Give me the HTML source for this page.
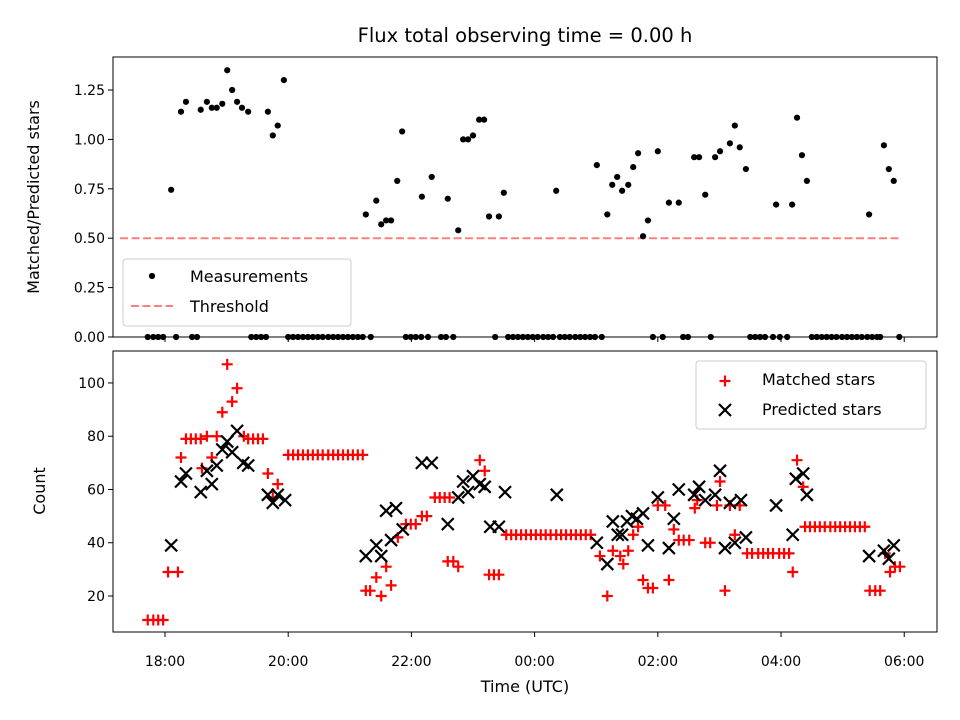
<!DOCTYPE html>
<html><head><meta charset="utf-8"><style>
body{margin:0;background:#fff;}
svg{display:block;font-family:"DejaVu Sans","Liberation Sans",sans-serif;}
</style></head><body>
<svg id="c" width="960" height="720" viewBox="0 0 960 720" xmlns="http://www.w3.org/2000/svg">
<rect width="960" height="720" fill="#fff"/>
<text x="525" y="42" font-size="19.5" text-anchor="middle">Flux total observing time = 0.00 h</text>
<g id="top"></g><g id="bot"></g>
<text transform="translate(39,197) rotate(-90)" font-size="16" text-anchor="middle">Matched/Predicted stars</text>
<text transform="translate(45,491) rotate(-90)" font-size="16" text-anchor="middle">Count</text>
<text x="525" y="692" font-size="16" text-anchor="middle">Time (UTC)</text>
</svg>
<script>
// hours since 18:00 UTC
const ratioTimes=[0.10,0.26,0.34,0.58,0.68,0.76,0.84,0.93,1.01,1.09,1.17,1.25,1.35,1.67,1.75,1.83,1.93,3.26,3.43,3.51,3.59,3.67,3.77,3.85,4.17,4.33,4.59,4.76,4.84,4.92,5.00,5.10,5.18,5.26,5.42,5.50,6.35,7.01,7.18,7.26,7.34,7.42,7.52,7.60,7.68,7.76,7.84,8.00,8.18,8.34,8.59,8.67,8.77,8.93,9.01,9.17,9.25,9.33,9.43,9.92,10.18,10.26,10.34,10.42,11.43,11.67,11.75,11.83];
const ratioValues=[0.745,1.14,1.19,1.15,1.19,1.16,1.16,1.18,1.35,1.25,1.19,1.16,1.14,1.14,1.02,1.07,1.30,0.62,0.69,0.57,0.59,0.59,0.79,1.04,0.71,0.81,0.70,0.54,1.00,1.00,1.02,1.10,1.10,0.61,0.61,0.73,0.74,0.87,0.62,0.77,0.81,0.74,0.77,0.86,0.93,0.51,0.59,0.94,0.68,0.68,0.91,0.91,0.72,0.91,0.94,0.98,1.07,0.96,0.85,0.67,0.67,1.11,0.92,0.79,0.62,0.97,0.85,0.79];
const zeroTimes=[-0.28,-0.19,-0.11,-0.03,0.18,0.44,0.52,1.40,1.48,1.56,1.64,2.00,2.08,2.16,2.24,2.32,2.40,2.48,2.56,2.65,2.73,2.81,2.89,2.97,3.05,3.13,3.21,3.34,3.91,3.99,4.07,4.16,4.27,4.48,4.56,4.68,5.36,5.57,5.65,5.73,5.81,5.89,5.97,6.05,6.14,6.22,6.30,6.41,6.49,6.57,6.66,6.74,6.82,6.90,6.98,7.09,7.92,8.08,8.41,8.49,8.86,9.50,9.58,9.66,9.74,9.87,9.98,10.10,10.50,10.58,10.66,10.74,10.82,10.90,10.99,11.07,11.15,11.23,11.31,11.40,11.48,11.56,11.61,11.92];
const threshold=0.5, thrStart=-0.73, thrEnd=11.93;
const matchedTimes=[-0.28,-0.19,-0.11,-0.03,0.05,0.21,0.26,0.34,0.42,0.50,0.58,0.60,0.68,0.76,0.84,0.93,1.01,1.09,1.17,1.28,1.35,1.43,1.51,1.59,1.67,1.75,1.83,2.00,2.08,2.16,2.24,2.32,2.40,2.48,2.56,2.65,2.73,2.81,2.89,2.97,3.05,3.13,3.21,3.26,3.33,3.43,3.51,3.59,3.67,3.78,3.91,3.99,4.07,4.17,4.25,4.38,4.46,4.54,4.62,4.59,4.68,4.76,5.11,5.19,5.26,5.34,5.42,5.54,5.62,5.70,5.78,5.86,5.94,6.02,6.10,6.18,6.26,6.35,6.43,6.51,6.59,6.67,6.75,6.83,6.91,7.06,7.18,7.27,7.39,7.44,7.52,7.60,7.68,7.76,7.84,7.92,8.00,8.12,8.18,8.26,8.34,8.42,8.51,8.60,8.64,8.77,8.85,8.96,9.01,9.09,9.17,9.25,9.33,9.45,9.53,9.63,9.71,9.79,9.87,9.97,10.05,10.13,10.19,10.26,10.36,10.39,10.47,10.55,10.63,10.71,10.80,10.88,10.96,11.04,11.12,11.20,11.28,11.36,11.44,11.53,11.61,11.69,11.77,11.85,11.93];
const matchedCounts=[11,11,11,11,29,29,72,79,79,79,79,68,80,72,80,89,107,93,98,80,79,79,79,79,66,57,62,73,73,73,73,73,73,73,73,73,73,73,73,73,73,73,73,22,22,27,20,31,24,42,47,47,47,50,50,57,57,57,57,33,33,31,71,67,28,28,28,43,43,43,43,43,43,43,43,43,43,43,43,43,43,43,43,43,43,35,20,37,35,32,37,43,46,26,23,23,54,54,26,45,41,41,41,53,56,40,40,54,63,22,54,43,54,36,36,36,36,36,36,36,36,36,29,71,61,46,46,46,46,46,46,46,46,46,46,46,46,46,22,22,22,36,29,31,31];
const predTimes=[0.10,0.26,0.34,0.58,0.68,0.76,0.84,0.93,1.01,1.09,1.17,1.27,1.35,1.67,1.75,1.83,1.95,3.26,3.43,3.51,3.59,3.67,3.75,3.86,4.17,4.33,4.59,4.76,4.84,4.92,5.00,5.11,5.19,5.28,5.42,5.52,6.36,7.01,7.18,7.27,7.35,7.42,7.50,7.58,7.66,7.76,7.84,8.00,8.18,8.26,8.34,8.59,8.67,8.77,8.93,9.01,9.09,9.17,9.25,9.35,9.43,9.92,10.19,10.24,10.36,10.42,11.43,11.67,11.75,11.83];
const predCounts=[39,63,66,59,67,62,69,75,78,74,82,70,69,58,55,58,56,35,39,35,52,41,53,45,70,70,47,57,63,59,65,62,61,46,46,59,58,40,32,48,43,43,48,50,49,51,39,57,38,49,60,58,61,56,58,67,38,55,40,56,42,54,43,64,66,58,35,37,34,39];
const xTickHours=[0,2,4,6,8,10,12];
const xTickLabels=["18:00","20:00","22:00","00:00","02:00","04:00","06:00"];
const topTicks=[0,0.25,0.5,0.75,1.0,1.25];
const topTickLabels=["0.00","0.25","0.50","0.75","1.00","1.25"];
const botTicks=[20,40,60,80,100];

const NS="http://www.w3.org/2000/svg";
const L=113,R=937;
const xMin=-0.844,xMax=12.532;
const X=h=>L+(h-xMin)/(xMax-xMin)*(R-L);
const T={top:57,bot:337,min:0,max:1.417};
const B={top:351,bot:632,min:6.48,max:112.0};
const Yt=v=>T.bot-(v-T.min)/(T.max-T.min)*(T.bot-T.top);
const Yb=v=>B.bot-(v-B.min)/(B.max-B.min)*(B.bot-B.top);
function mk(tag,at,parent){const e=document.createElementNS(NS,tag);for(const k in at)e.setAttribute(k,at[k]);parent.appendChild(e);return e;}
const gt=document.getElementById('top'),gb=document.getElementById('bot');

function frame(g,A,name){
  const r=mk('rect',{x:L,y:A.top,width:R-L,height:A.bot-A.top,fill:'none',stroke:'#000','stroke-width':1},g);
  
  
  xTickHours.forEach((h,i)=>{
    const t=mk('line',{x1:X(h),x2:X(h),y1:A.bot,y2:A.bot+5,stroke:'#000'},g);
    
    
  });
}
frame(gt,T,'top-panel');frame(gb,B,'bottom-panel');
xTickHours.forEach((h,i)=>{
  const t=mk('text',{x:X(h),y:666,'font-size':14,'text-anchor':'middle'},gb);
  t.textContent=xTickLabels[i];
  
  
});
topTicks.forEach((v,i)=>{
  const l=mk('line',{x1:L-5,x2:L,y1:Yt(v),y2:Yt(v),stroke:'#000'},gt);
  
  
  const t=mk('text',{x:L-8,y:Yt(v)+5,'font-size':14,'text-anchor':'end'},gt);
  t.textContent=topTickLabels[i];
  
  
});
botTicks.forEach(v=>{
  const l=mk('line',{x1:L-5,x2:L,y1:Yb(v),y2:Yb(v),stroke:'#000'},gb);
  
  
  const t=mk('text',{x:L-8,y:Yb(v)+5,'font-size':14,'text-anchor':'end'},gb);
  t.textContent=String(v);
  
  
});
// threshold
const th=mk('line',{x1:X(thrStart),x2:X(thrEnd),y1:Yt(threshold),y2:Yt(threshold),stroke:'#ff7f7f','stroke-width':2,'stroke-dasharray':'8,3.5'},gt);


// measurements
ratioTimes.forEach((h,i)=>{
  const c=mk('circle',{cx:X(h),cy:Yt(ratioValues[i]),r:3.1,fill:'#000'},gt);
  
  
});
zeroTimes.forEach(h=>{
  const c=mk('circle',{cx:X(h),cy:Yt(0),r:3.1,fill:'#000'},gt);
  
  
});
function plus(g,x,y,col){const p=mk('path',{d:`M${x-5.5} ${y}H${x+5.5}M${x} ${y-5.5}V${y+5.5}`,stroke:col,'stroke-width':2.2,fill:'none'},g);return p;}
function cross(g,x,y){return mk('path',{d:`M${x-6} ${y-6}L${x+6} ${y+6}M${x-6} ${y+6}L${x+6} ${y-6}`,stroke:'#000','stroke-width':2.2,fill:'none'},g);}
matchedTimes.forEach((h,i)=>{
  const p=plus(gb,X(h),Yb(matchedCounts[i]),'#ff0000');
  
  
});
predTimes.forEach((h,i)=>{
  const p=cross(gb,X(h),Yb(predCounts[i]));
  
  
});
// legends
const lg1=mk('g',{},gt);


mk('rect',{x:123,y:259,width:228,height:67,rx:3,fill:'#fff','fill-opacity':0.8,stroke:'#ccc'},lg1);
mk('circle',{cx:152,cy:276,r:3.1,fill:'#000'},lg1);
let t=mk('text',{x:190,y:282,'font-size':16},lg1);t.textContent='Measurements';
mk('line',{x1:131,x2:173,y1:306,y2:306,stroke:'#ff7f7f','stroke-width':2,'stroke-dasharray':'8,3.5'},lg1);
t=mk('text',{x:190,y:312,'font-size':16},lg1);t.textContent='Threshold';
const lg2=mk('g',{},gb);


mk('rect',{x:696,y:361,width:230,height:68,rx:3,fill:'#fff','fill-opacity':0.8,stroke:'#ccc'},lg2);
plus(lg2,725,381,'#ff0000');
t=mk('text',{x:762,y:385,'font-size':16},lg2);t.textContent='Matched stars';
cross(lg2,725,410);
t=mk('text',{x:762,y:415,'font-size':16},lg2);t.textContent='Predicted stars';
</script>
</body></html>
